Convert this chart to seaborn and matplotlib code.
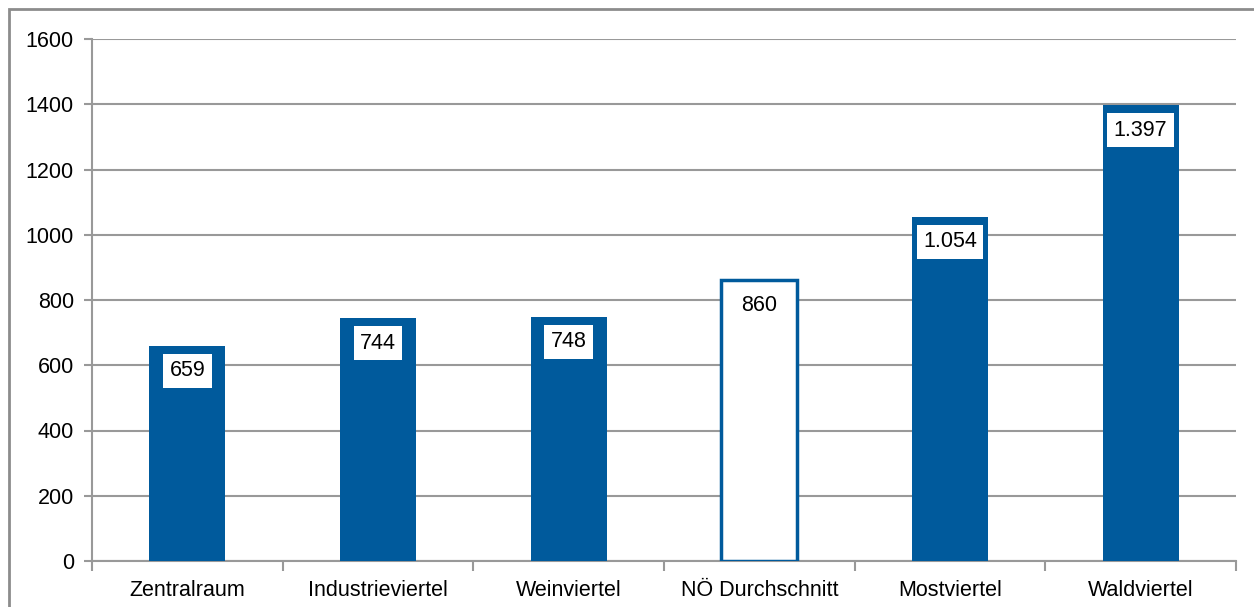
import matplotlib
matplotlib.use("Agg")
import matplotlib.pyplot as plt
import seaborn as sns
import pandas as pd
from matplotlib.patches import Rectangle

categories = ["Zentralraum", "Industrieviertel", "Weinviertel", "NÖ Durchschnitt", "Mostviertel", "Waldviertel"]
values = [659, 744, 748, 860, 1054, 1397]
yticks = [0, 200, 400, 600, 800, 1000, 1200, 1400, 1600]

BLUE = "#005A9C"
GRID = "#999999"
FS = 15.5

sns.set_theme(style="white")
plt.rcParams["font.family"] = ["Liberation Sans", "DejaVu Sans"]

fig = plt.figure(figsize=(12.54, 6.07), dpi=100)
ax = fig.add_axes([92/1254, 46/607, 1144/1254, 522/607])

df = pd.DataFrame({"cat": categories, "val": values})
sns.barplot(data=df, x="cat", y="val", color=BLUE, width=0.4, ax=ax,
            saturation=1, edgecolor="none", zorder=3)

avg_idx = categories.index("NÖ Durchschnitt")
for i, p in enumerate(ax.patches):
    if i == avg_idx:
        p.set_facecolor("white")
        p.set_edgecolor(BLUE)
        p.set_linewidth(2.5)

def fmt(v):
    return f"{v:,}".replace(",", ".")

for i, v in enumerate(values):
    ax.text(i, v - 76, fmt(v), ha="center", va="center", fontsize=FS, color="black",
            zorder=5,
            bbox=dict(boxstyle="square,pad=0.3", facecolor="white", edgecolor="none"))

ax.set_ylim(0, 1600)
ax.set_xlim(-0.5, len(categories) - 0.5)
ax.set_yticks(yticks)
ax.set_yticklabels([str(t) for t in yticks], fontsize=FS, color="black")
ax.set_xticks(range(len(categories)))
ax.set_xticklabels(categories, fontsize=FS, color="black")
ax.set_xlabel("")
ax.set_ylabel("")

ax.yaxis.grid(True, color=GRID, linewidth=1.5, zorder=0)
ax.set_axisbelow(True)

for s in ["top", "right"]:
    ax.spines[s].set_visible(False)
for s in ["left", "bottom"]:
    ax.spines[s].set_color(GRID)
    ax.spines[s].set_linewidth(1.5)

ax.tick_params(axis="y", which="major", left=True, length=6, width=1.5, color=GRID, pad=7)
ax.tick_params(axis="x", which="major", bottom=False, pad=8)
ax.set_xticks([i - 0.5 for i in range(len(categories) + 1)], minor=True)
ax.tick_params(axis="x", which="minor", bottom=True, length=7, width=1.5, color=GRID)

# outer chart border
fig.patches.append(Rectangle((9/1254, -0.1), 1.2, (607 - 9)/607 + 0.1, transform=fig.transFigure,
                             fill=False, edgecolor="#8c8c8c", linewidth=2, zorder=10))

fig.savefig("out.png", dpi=100)
